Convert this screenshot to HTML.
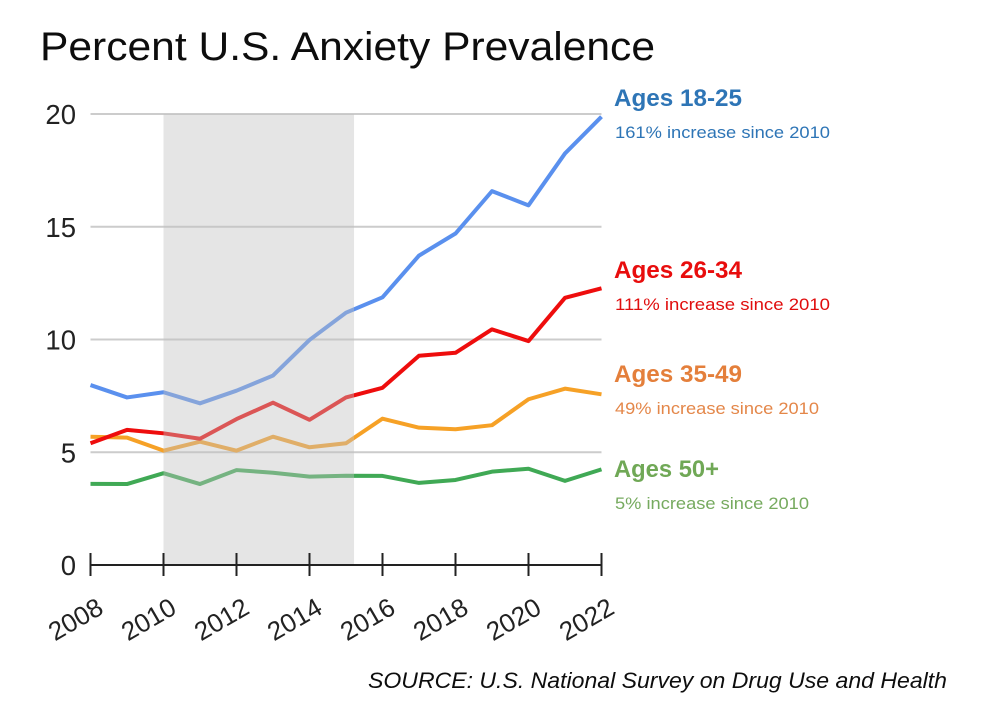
<!DOCTYPE html>
<html lang="en">
<head>
<meta charset="utf-8">
<title>Percent U.S. Anxiety Prevalence</title>
<style>
html,body{margin:0;padding:0;background:#fff;}
svg{display:block;}
text{font-family:"Liberation Sans",sans-serif;}
</style>
</head>
<body>
<svg id="chart" xmlns="http://www.w3.org/2000/svg" width="1001" height="702" viewBox="0 0 1001 702">
  <defs><filter id="soft" x="-5%" y="-5%" width="110%" height="110%"><feGaussianBlur stdDeviation="0.35"/></filter></defs>
  <g filter="url(#soft)">
  <text x="40" y="60" font-size="40" fill="#0a0a0a" textLength="615" lengthAdjust="spacingAndGlyphs">Percent U.S. Anxiety Prevalence</text>
  <g id="grid"></g>
  <g id="lines"></g>
  <g id="band"></g>
  <g id="axes"></g>

  <text x="614" y="106" font-size="24" font-weight="700" fill="#2e75b6" textLength="128" lengthAdjust="spacingAndGlyphs">Ages 18-25</text>
  <text x="615" y="138" font-size="17" fill="#2e75b6" textLength="215" lengthAdjust="spacingAndGlyphs">161% increase since 2010</text>
  <text x="614" y="278" font-size="24" font-weight="700" fill="#e80808" textLength="128" lengthAdjust="spacingAndGlyphs">Ages 26-34</text>
  <text x="615" y="310" font-size="17" fill="#e01010" textLength="215" lengthAdjust="spacingAndGlyphs">111% increase since 2010</text>
  <text x="614" y="382" font-size="24" font-weight="700" fill="#e47f3a" textLength="128" lengthAdjust="spacingAndGlyphs">Ages 35-49</text>
  <text x="615" y="414" font-size="17" fill="#e4874a" textLength="204" lengthAdjust="spacingAndGlyphs">49% increase since 2010</text>
  <text x="614" y="477" font-size="24" font-weight="700" fill="#6fa856" textLength="105" lengthAdjust="spacingAndGlyphs">Ages 50+</text>
  <text x="615" y="509" font-size="17" fill="#76aa5e" textLength="194" lengthAdjust="spacingAndGlyphs">5% increase since 2010</text>

  <text x="368" y="688" font-size="22" font-style="italic" fill="#111" textLength="579" lengthAdjust="spacingAndGlyphs">SOURCE: U.S. National Survey on Drug Use and Health</text>
  </g>
</svg>
<script>
const years = [2008,2009,2010,2011,2012,2013,2014,2015,2016,2017,2018,2019,2020,2021,2022];
const ages1825 = [7.98,7.43,7.66,7.17,7.73,8.40,9.98,11.19,11.87,13.72,14.70,16.58,15.95,18.25,19.88];
const ages2634 = [5.40,5.99,5.84,5.60,6.47,7.20,6.44,7.43,7.86,9.28,9.41,10.45,9.93,11.85,12.27];
const ages3549 = [5.69,5.65,5.07,5.47,5.07,5.69,5.22,5.40,6.49,6.09,6.02,6.20,7.35,7.82,7.57];
const ages50plus = [3.60,3.59,4.07,3.59,4.21,4.09,3.92,3.96,3.95,3.64,3.77,4.14,4.27,3.73,4.24];
const yTicks = [0,5,10,15,20];
const xTicks = [2008,2010,2012,2014,2016,2018,2020,2022];
const bandStart = 2010;
const bandEnd = 2015.22;

const NS = 'http://www.w3.org/2000/svg';
function xScale(v){ return 90.5 + (v - 2008) * (601.5 - 90.5) / 14; }
function yScale(v){ return 565 - v * (565 - 114) / 20; }
function make(tag, attrs, parent){
  const el = document.createElementNS(NS, tag);
  for (const k in attrs) el.setAttribute(k, attrs[k]);
  parent.appendChild(el);
  return el;
}
const gridG = document.getElementById('grid');
const linesG = document.getElementById('lines');
const bandG = document.getElementById('band');
const axesG = document.getElementById('axes');

yTicks.forEach(function(t){
  if (t !== 0) {
    const g = make('line', {x1:xScale(2008), x2:xScale(2022), y1:yScale(t), y2:yScale(t), stroke:'#cccccc', 'stroke-width':2}, gridG);
    
    
  }
  const lab = make('text', {x:76, y:yScale(t) + 10, 'text-anchor':'end', 'font-size':27.5, fill:'#222'}, axesG);
  lab.textContent = t;
  
  
});

function drawSeries(name, values, color){
  const pts = values.map(function(v, i){ return xScale(years[i]) + ',' + yScale(v); }).join(' ');
  const line = make('polyline', {points:pts, fill:'none', stroke:color, 'stroke-width':4, 'stroke-linejoin':'round'}, linesG);
  
  
}
drawSeries('ages-50-plus', ages50plus, '#3fa954');
drawSeries('ages-35-49', ages3549, '#f6a128');
drawSeries('ages-26-34', ages2634, '#ee0a0a');
drawSeries('ages-18-25', ages1825, '#5a90ee');

const band = make('rect', {x:xScale(bandStart), y:yScale(20), width:xScale(bandEnd) - xScale(bandStart), height:yScale(0) - yScale(20), fill:'#c0c0c0', 'fill-opacity':0.42}, bandG);



const axisLine = make('line', {x1:xScale(2008), x2:xScale(2022), y1:yScale(0), y2:yScale(0), stroke:'#222', 'stroke-width':2}, axesG);



xTicks.forEach(function(t){
  const x = xScale(t);
  const tick = make('line', {x1:x, x2:x, y1:yScale(0) - 12, y2:yScale(0) + 11, stroke:'#222', 'stroke-width':2}, axesG);
  
  
  const lx = x - 14.5 + 4, ly = 627;
  const lab = make('text', {x:lx, y:ly, 'text-anchor':'middle', 'font-size':26, fill:'#222', transform:'rotate(-30 ' + lx + ' ' + ly + ')'}, axesG);
  lab.textContent = t;
  
  
});
</script>
</body>
</html>
